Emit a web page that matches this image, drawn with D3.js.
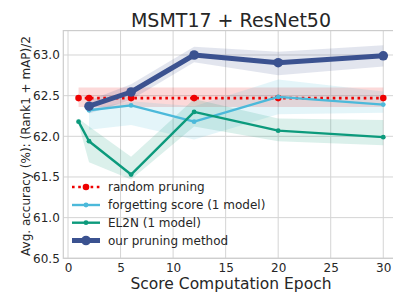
<!DOCTYPE html>
<html>
<head>
<meta charset="utf-8">
<script src="https://cdn.jsdelivr.net/npm/d3@7"></script>
<style>
  body { margin: 0; background: #fff; }
  text { font-family: "DejaVu Sans", sans-serif; fill: #262626; }
</style>
</head>
<body>
<svg id="chart"></svg>
<script>
// values
const xTicks = [0, 5, 10, 15, 20, 25, 30];
const yTicks = [60.5, 61.0, 61.5, 62.0, 62.5, 63.0];

const randomEpochs = [1, 2, 6, 12, 20, 30];
const randomMean = [62.47, 62.47, 62.47, 62.47, 62.47, 62.47];
const randomLow = [62.36, 62.36, 62.36, 62.36, 62.36, 62.36];
const randomHigh = [62.6, 62.6, 62.6, 62.6, 62.6, 62.6];

const forgetEpochs = [2, 6, 12, 20, 30];
const forgetMean = [62.32, 62.38, 62.18, 62.485, 62.39];
const forgetLow = [62.08, 62.14, 61.96, 62.27, 62.29];
const forgetHigh = [62.34, 62.43, 62.37, 62.7, 62.55];

const el2nEpochs = [1, 2, 6, 12, 20, 30];
const el2nMean = [62.18, 61.94, 61.53, 62.3, 62.07, 61.99];
const el2nLow = [62.15, 61.68, 61.47, 62.12, 61.94, 61.89];
const el2nHigh = [62.22, 62.12, 61.75, 62.46, 62.22, 62.2];

const oursEpochs = [2, 6, 12, 20, 30];
const oursMean = [62.37, 62.545, 63.0, 62.905, 62.99];
const oursLow = [62.28, 62.45, 62.91, 62.75, 62.86];
const oursHigh = [62.44, 62.64, 63.1, 63.04, 63.12];

const W = 393, H = 292;
const svg = d3.select("#chart").attr("width", W).attr("height", H);

const x = d3.scaleLinear().domain([-0.45, 31.45]).range([63.3, 398.5]);
const y = d3.scaleLinear().domain([60.5, 63.3]).range([258.3, 30.6]);

// grid
svg.append("g").selectAll("line").data(xTicks).join("line")
  .attr("x1", d => x(d)).attr("x2", d => x(d))
  .attr("y1", y.range()[1]).attr("y2", y.range()[0])
  .attr("stroke", "#d4d4d4").attr("stroke-width", 1);
svg.append("g").selectAll("line").data(yTicks).join("line")
  .attr("x1", x.range()[0]).attr("x2", x.range()[1])
  .attr("y1", d => y(d)).attr("y2", d => y(d))
  .attr("stroke", "#d4d4d4").attr("stroke-width", 1);
svg.append("rect")
  .attr("x", x.range()[0]).attr("y", y.range()[1])
  .attr("width", x.range()[1] - x.range()[0])
  .attr("height", y.range()[0] - y.range()[1])
  .attr("fill", "none").attr("stroke", "#cccccc").attr("stroke-width", 1.2);

// tick labels via axes
const xAxis = svg.append("g")
  .attr("transform", "translate(0," + y.range()[0] + ")")
  .call(d3.axisBottom(x).tickValues(xTicks).tickSize(0).tickPadding(5));
xAxis.select(".domain").remove();
xAxis.selectAll("text").attr("font-size", 12).attr("font-family", "DejaVu Sans").attr("fill", "#262626");

const yAxis = svg.append("g")
  .attr("transform", "translate(" + x.range()[0] + ",0)")
  .call(d3.axisLeft(y).tickValues(yTicks).tickFormat(d3.format(".1f")).tickSize(0).tickPadding(3.5));
yAxis.select(".domain").remove();
yAxis.selectAll("text").attr("font-size", 12).attr("font-family", "DejaVu Sans").attr("fill", "#262626");

const plot = svg.append("g");

const series = [
  {name: "random pruning", ep: randomEpochs, m: randomMean, lo: randomLow, hi: randomHigh,
   color: "#ee0000", width: 2.6, dash: "2.6 3.6", r: 3.3},
  {name: "forgetting score (1 model)", ep: forgetEpochs, m: forgetMean, lo: forgetLow, hi: forgetHigh,
   color: "#4cb9da", width: 2.4, dash: null, r: 2.4},
  {name: "EL2N (1 model)", ep: el2nEpochs, m: el2nMean, lo: el2nLow, hi: el2nHigh,
   color: "#0c9a7c", width: 2.4, dash: null, r: 2.4},
  {name: "our pruning method", ep: oursEpochs, m: oursMean, lo: oursLow, hi: oursHigh,
   color: "#3b5290", width: 5, dash: null, r: 4.8}
];

const area = d3.area().x(d => x(d.e)).y0(d => y(d.lo)).y1(d => y(d.hi));
const line = d3.line().x(d => x(d.e)).y(d => y(d.v));

series.forEach(s => {
  const rows = s.ep.map((e, i) => ({e: e, v: s.m[i], lo: s.lo[i], hi: s.hi[i]}));
  plot.append("path").datum(rows).attr("d", area)
    .attr("fill", s.color).attr("fill-opacity", 0.15);
  s.rows = rows;
});

series.forEach(s => {
  plot.append("path").datum(s.rows).attr("d", line)
    .attr("fill", "none").attr("stroke", s.color)
    .attr("stroke-width", s.width)
    .attr("stroke-dasharray", s.dash)
    .attr("stroke-linejoin", "round");
  plot.selectAll(null).data(s.rows).join("circle")
    .attr("cx", d => x(d.e)).attr("cy", d => y(d.v)).attr("r", s.r)
    .attr("fill", s.color);
});

// legend
const legY = [187, 205, 222.7, 240.5];
const leg = svg.append("g");
series.forEach((s, i) => {
  leg.append("line")
    .attr("x1", 72).attr("x2", 100).attr("y1", legY[i]).attr("y2", legY[i])
    .attr("stroke", s.color).attr("stroke-width", s.width)
    .attr("stroke-dasharray", s.dash);
  leg.append("circle").attr("cx", 86).attr("cy", legY[i]).attr("r", s.r).attr("fill", s.color);
  leg.append("text").attr("x", 108).attr("y", legY[i]).attr("dy", "0.35em")
    .attr("font-size", 12).text(s.name);
});

// title and axis labels
svg.append("text").attr("x", 231).attr("y", 26.7).attr("text-anchor", "middle")
  .attr("font-size", 19).text("MSMT17 + ResNet50");
svg.append("text").attr("x", 231).attr("y", 289).attr("text-anchor", "middle")
  .attr("font-size", 15.5).text("Score Computation Epoch");
svg.append("text").attr("transform", "translate(30,146) rotate(-90)")
  .attr("text-anchor", "middle").attr("font-size", 12)
  .text("Avg. accuracy (%): (Rank1 + mAP)/2");
</script>
</body>
</html>
